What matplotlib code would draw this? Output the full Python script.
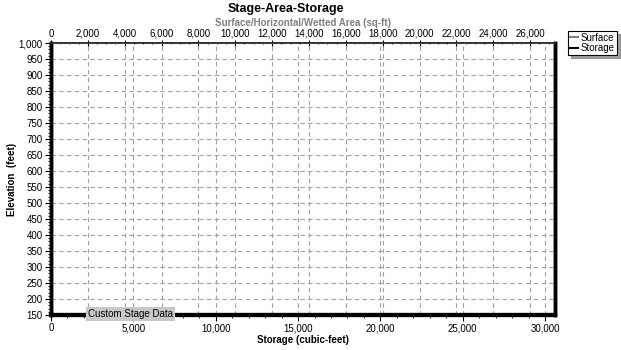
import matplotlib.pyplot as plt
from matplotlib.ticker import MultipleLocator, FuncFormatter

plt.rcParams['font.family'] = ['Liberation Sans', 'DejaVu Sans']

# Stage-area-storage table (no custom stage rows entered yet)
elevation = []        # feet
surface_area = []     # sq-ft
storage = []          # cubic-feet

storage_range = (0, 30600)
area_range = (0, 27350)
elev_range = (150, 1000)

comma = FuncFormatter(lambda v, p: f"{v:,.0f}")
grid_style = dict(color="#a0a0a0", linestyle=(0, (4, 3)), linewidth=0.8)

fig = plt.figure(figsize=(6.21, 3.5), dpi=100)
ax = fig.add_axes([0.0821, 0.1, 0.8116, 0.777])

ax.plot(storage, elevation, color="black", linewidth=1.5, label="Storage")
ax.set_xlim(*storage_range)
ax.set_ylim(*elev_range)
ax.xaxis.set_major_locator(MultipleLocator(5000))
ax.xaxis.set_minor_locator(MultipleLocator(1000))
ax.yaxis.set_major_locator(MultipleLocator(50))
ax.yaxis.set_minor_locator(MultipleLocator(10))
ax.xaxis.set_major_formatter(comma)
ax.yaxis.set_major_formatter(comma)
ax.grid(True, which="major", **grid_style)
ax.tick_params(labelsize=7, length=4, width=0.8, pad=2)
ax.tick_params(which="minor", length=2, width=0.6)
ax.set_xlabel("Storage (cubic-feet)", fontsize=7, fontweight="bold", labelpad=1)
ax.set_ylabel("Elevation  (feet)", fontsize=7, fontweight="bold", labelpad=1)

ax2 = ax.twiny()
ax2.plot(surface_area, elevation, color="#808080", linewidth=1.5, label="Surface")
ax2.set_xlim(*area_range)
ax2.xaxis.set_major_locator(MultipleLocator(2000))
ax2.xaxis.set_minor_locator(MultipleLocator(500))
ax2.xaxis.set_major_formatter(comma)
ax2.grid(True, which="major", axis="x", **grid_style)
ax2.tick_params(labelsize=7, length=4, width=0.8, pad=1, direction="inout")
ax2.tick_params(which="minor", length=2, width=0.6, direction="inout")
ax2.set_xlabel("Surface/Horizontal/Wetted Area (sq-ft)", fontsize=7,
               fontweight="bold", color="#808080", labelpad=2)

for a in (ax, ax2):
    a.spines["left"].set_linewidth(2.5)
    a.spines["bottom"].set_linewidth(3)
    a.spines["right"].set_linewidth(2.5)
    a.spines["top"].set_linewidth(1.2)
    a.spines["top"].set_color("#303030")
ax2.set_zorder(ax.get_zorder() - 1)
ax.patch.set_visible(False)

fig.text(0.46, 0.975, "Stage-Area-Storage", ha="center", va="center",
         fontsize=9, fontweight="bold")

ax.text(0.073, 0.003, "Custom Stage Data", transform=ax.transAxes, fontsize=7,
        ha="left", va="center", zorder=5,
        bbox=dict(boxstyle="square,pad=0.2", facecolor="#c8c8c8", edgecolor="none"))

h1, l1 = ax2.get_legend_handles_labels()
h2, l2 = ax.get_legend_handles_labels()
leg = fig.legend(h1 + h2, l1 + l2, loc="upper left", bbox_to_anchor=(0.915, 0.912),
                 fontsize=7, frameon=True, fancybox=False, shadow=True,
                 handlelength=0.8, handletextpad=0.3, borderpad=0.2,
                 labelspacing=0.05, borderaxespad=0)
leg.get_frame().set_edgecolor("black")
leg.get_frame().set_linewidth(0.8)

fig.savefig("out.png", dpi=100)
